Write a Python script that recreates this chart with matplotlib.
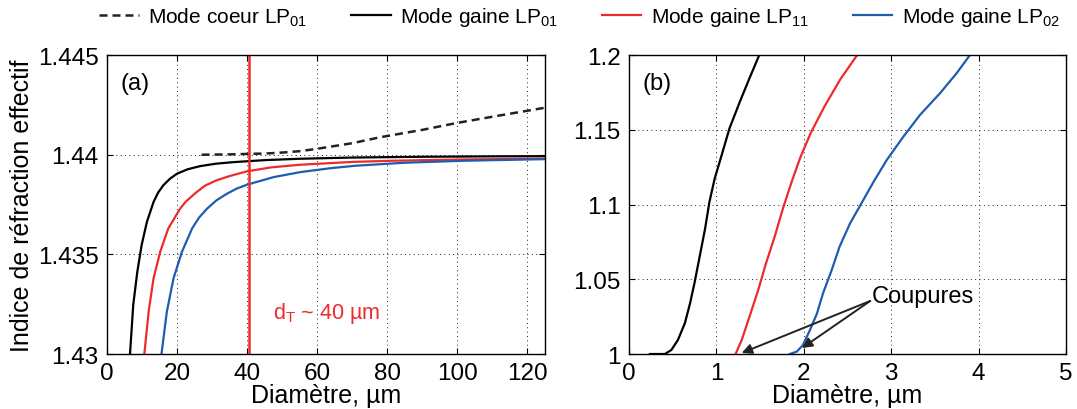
import matplotlib.pyplot as plt

plt.rcParams['font.family'] = ['Liberation Sans', 'DejaVu Sans']
plt.rcParams['mathtext.fontset'] = 'custom'
plt.rcParams['mathtext.rm'] = 'Liberation Sans'
plt.rcParams['mathtext.it'] = 'Liberation Sans:italic'

# ---- panel (a) data : diameter (um) vs effective index
a_core_x = [27, 35, 42, 45, 50, 55, 60, 70, 78, 90, 100, 112, 124, 125]
a_core_y = [1.44000, 1.44002, 1.44005, 1.44006, 1.44011, 1.44018, 1.44030, 1.44058, 1.44088, 1.44125,
            1.44160, 1.44197, 1.44233, 1.44236]

a_lp01_x = [6.6, 7.5, 8.67, 9.9, 11.4, 13.3, 14.6, 16.1, 18.0, 20.0, 23.0, 26.6, 31.0, 36.1, 45, 55.2,
            70, 90, 110, 125]
a_lp01_y = [1.43005, 1.43246, 1.43413, 1.43547, 1.43663, 1.43763, 1.43810, 1.43847, 1.43880, 1.43905,
            1.43927, 1.43943, 1.43955, 1.43963, 1.43973, 1.43980, 1.43986, 1.43990, 1.43992, 1.43993]

a_lp11_x = [10.7, 11.9, 13.3, 15.2, 17.5, 20.9, 22.5, 25.6, 28.0, 31.3, 35.0, 40.0, 47.0, 55.2, 70, 81.5,
            100, 125]
a_lp11_y = [1.43005, 1.43213, 1.43380, 1.43513, 1.43630, 1.43730, 1.43765, 1.43813, 1.43845, 1.43872,
            1.43893, 1.43917, 1.43937, 1.43950, 1.43964, 1.43970, 1.43976, 1.43981]

a_lp02_x = [15.6, 17.1, 19.0, 21.4, 24.3, 26.3, 28.6, 31.3, 34.3, 37.0, 40.0, 47.6, 55.2, 64, 71, 85,
            102, 125]
a_lp02_y = [1.43005, 1.43213, 1.43380, 1.43513, 1.43630, 1.43685, 1.43730, 1.43772, 1.43805, 1.43830,
            1.43850, 1.43888, 1.43913, 1.43933, 1.43945, 1.43960, 1.43970, 1.43978]

d_T = 40.6

# ---- panel (b) data
b_lp01_x = [0.24, 0.41, 0.485, 0.56, 0.64, 0.70, 0.75, 0.81, 0.87, 0.92, 0.98, 1.06, 1.15, 1.27, 1.38, 1.49]
b_lp01_y = [1.000, 1.000, 1.0027, 1.0094, 1.0207, 1.0342, 1.0476, 1.0656, 1.0836, 1.1016, 1.1173, 1.133,
            1.151, 1.169, 1.1847, 1.200]

b_lp11_x = [1.22, 1.29, 1.38, 1.48, 1.57, 1.67, 1.76, 1.86, 1.96, 2.08, 2.24, 2.42, 2.61]
b_lp11_y = [1.000, 1.0094, 1.0252, 1.0431, 1.0611, 1.0791, 1.0971, 1.115, 1.1315, 1.148, 1.166, 1.184, 1.200]

b_lp02_x = [1.84, 1.92, 1.99, 2.07, 2.15, 2.22, 2.32, 2.41, 2.53, 2.66, 2.80, 2.95, 3.14, 3.33, 3.56, 3.75, 3.90]
b_lp02_y = [1.000, 1.0016, 1.006, 1.016, 1.027, 1.0406, 1.0563, 1.0719, 1.0875, 1.1009, 1.1154, 1.1299,
            1.1455, 1.160, 1.1746, 1.188, 1.200]

RED = '#ee2a2a'
BLUE = '#1f5cb0'
LW = 1.6

fig = plt.figure(figsize=(10.77, 4.10), dpi=100)
ax1 = fig.add_axes([0.0993, 0.1341, 0.4067, 0.729])
ax2 = fig.add_axes([0.584, 0.1341, 0.4058, 0.729])


def style(ax):
    ax.tick_params(direction='in', top=True, right=True, labelsize=17.5, length=4, pad=6)
    ax.grid(True, linestyle=(0, (1, 3.5)), color='#222222', linewidth=0.7)
    for s in ax.spines.values():
        s.set_linewidth(1.0)


# -------------------------
# Panel (a)
# -------------------------
ax1.plot(a_core_x, a_core_y, '--', color='#222222', lw=1.8, dashes=(3.2, 2.0), label='Mode coeur LP$_{01}$')
ax1.plot(a_lp01_x, a_lp01_y, color='black', lw=LW, label='Mode gaine LP$_{01}$')
ax1.plot(a_lp11_x, a_lp11_y, color=RED, lw=LW, label='Mode gaine LP$_{11}$')
ax1.plot(a_lp02_x, a_lp02_y, color=BLUE, lw=LW, label='Mode gaine LP$_{02}$')
ax1.axvline(d_T, color=RED, lw=1.8)
ax1.text(47.5, 1.4321, 'd$_\\mathregular{T}$ ~ 40 µm', color=RED, fontsize=15.5, va='center')
ax1.text(0.03, 0.945, '(a)', transform=ax1.transAxes, fontsize=17, va='top')

ax1.set_xlim(0, 125)
ax1.set_ylim(1.43, 1.445)
ax1.set_xticks([0, 20, 40, 60, 80, 100, 120])
ax1.set_yticks([1.43, 1.435, 1.44, 1.445])
ax1.set_yticklabels(['1.43', '1.435', '1.44', '1.445'])
ax1.set_xlabel('Diamètre, µm', fontsize=18, labelpad=-1)
ax1.set_ylabel('Indice de réfraction effectif', fontsize=18, labelpad=3)
style(ax1)

# -------------------------
# Panel (b)
# -------------------------
ax2.plot(b_lp01_x, b_lp01_y, color='black', lw=LW)
ax2.plot(b_lp11_x, b_lp11_y, color=RED, lw=LW)
ax2.plot(b_lp02_x, b_lp02_y, color=BLUE, lw=LW)
ax2.text(0.03, 0.945, '(b)', transform=ax2.transAxes, fontsize=17, va='top')

for tx, ty in [(1.29, 1.0007), (1.98, 1.004)]:
    ax2.annotate('', xy=(tx, ty), xytext=(2.76, 1.0355),
                 arrowprops=dict(arrowstyle='-|>', color='#222222', lw=1.4, mutation_scale=15,
                                 shrinkA=0, shrinkB=0))
ax2.text(2.78, 1.0386, 'Coupures', fontsize=17, va='center')

ax2.set_xlim(0, 5)
ax2.set_ylim(1.0, 1.2)
ax2.set_xticks([0, 1, 2, 3, 4, 5])
ax2.set_yticks([1.0, 1.05, 1.1, 1.15, 1.2])
ax2.set_yticklabels(['1', '1.05', '1.1', '1.15', '1.2'])
ax2.set_xlabel('Diamètre, µm', fontsize=18, labelpad=-1)
style(ax2)

handles, labels = ax1.get_legend_handles_labels()
fig.legend(handles, labels, loc='upper center', bbox_to_anchor=(0.538, 1.03), ncol=4,
           frameon=False, fontsize=15, handlelength=1.9, handletextpad=0.45, columnspacing=2.1)

fig.savefig('out.png', dpi=100)
